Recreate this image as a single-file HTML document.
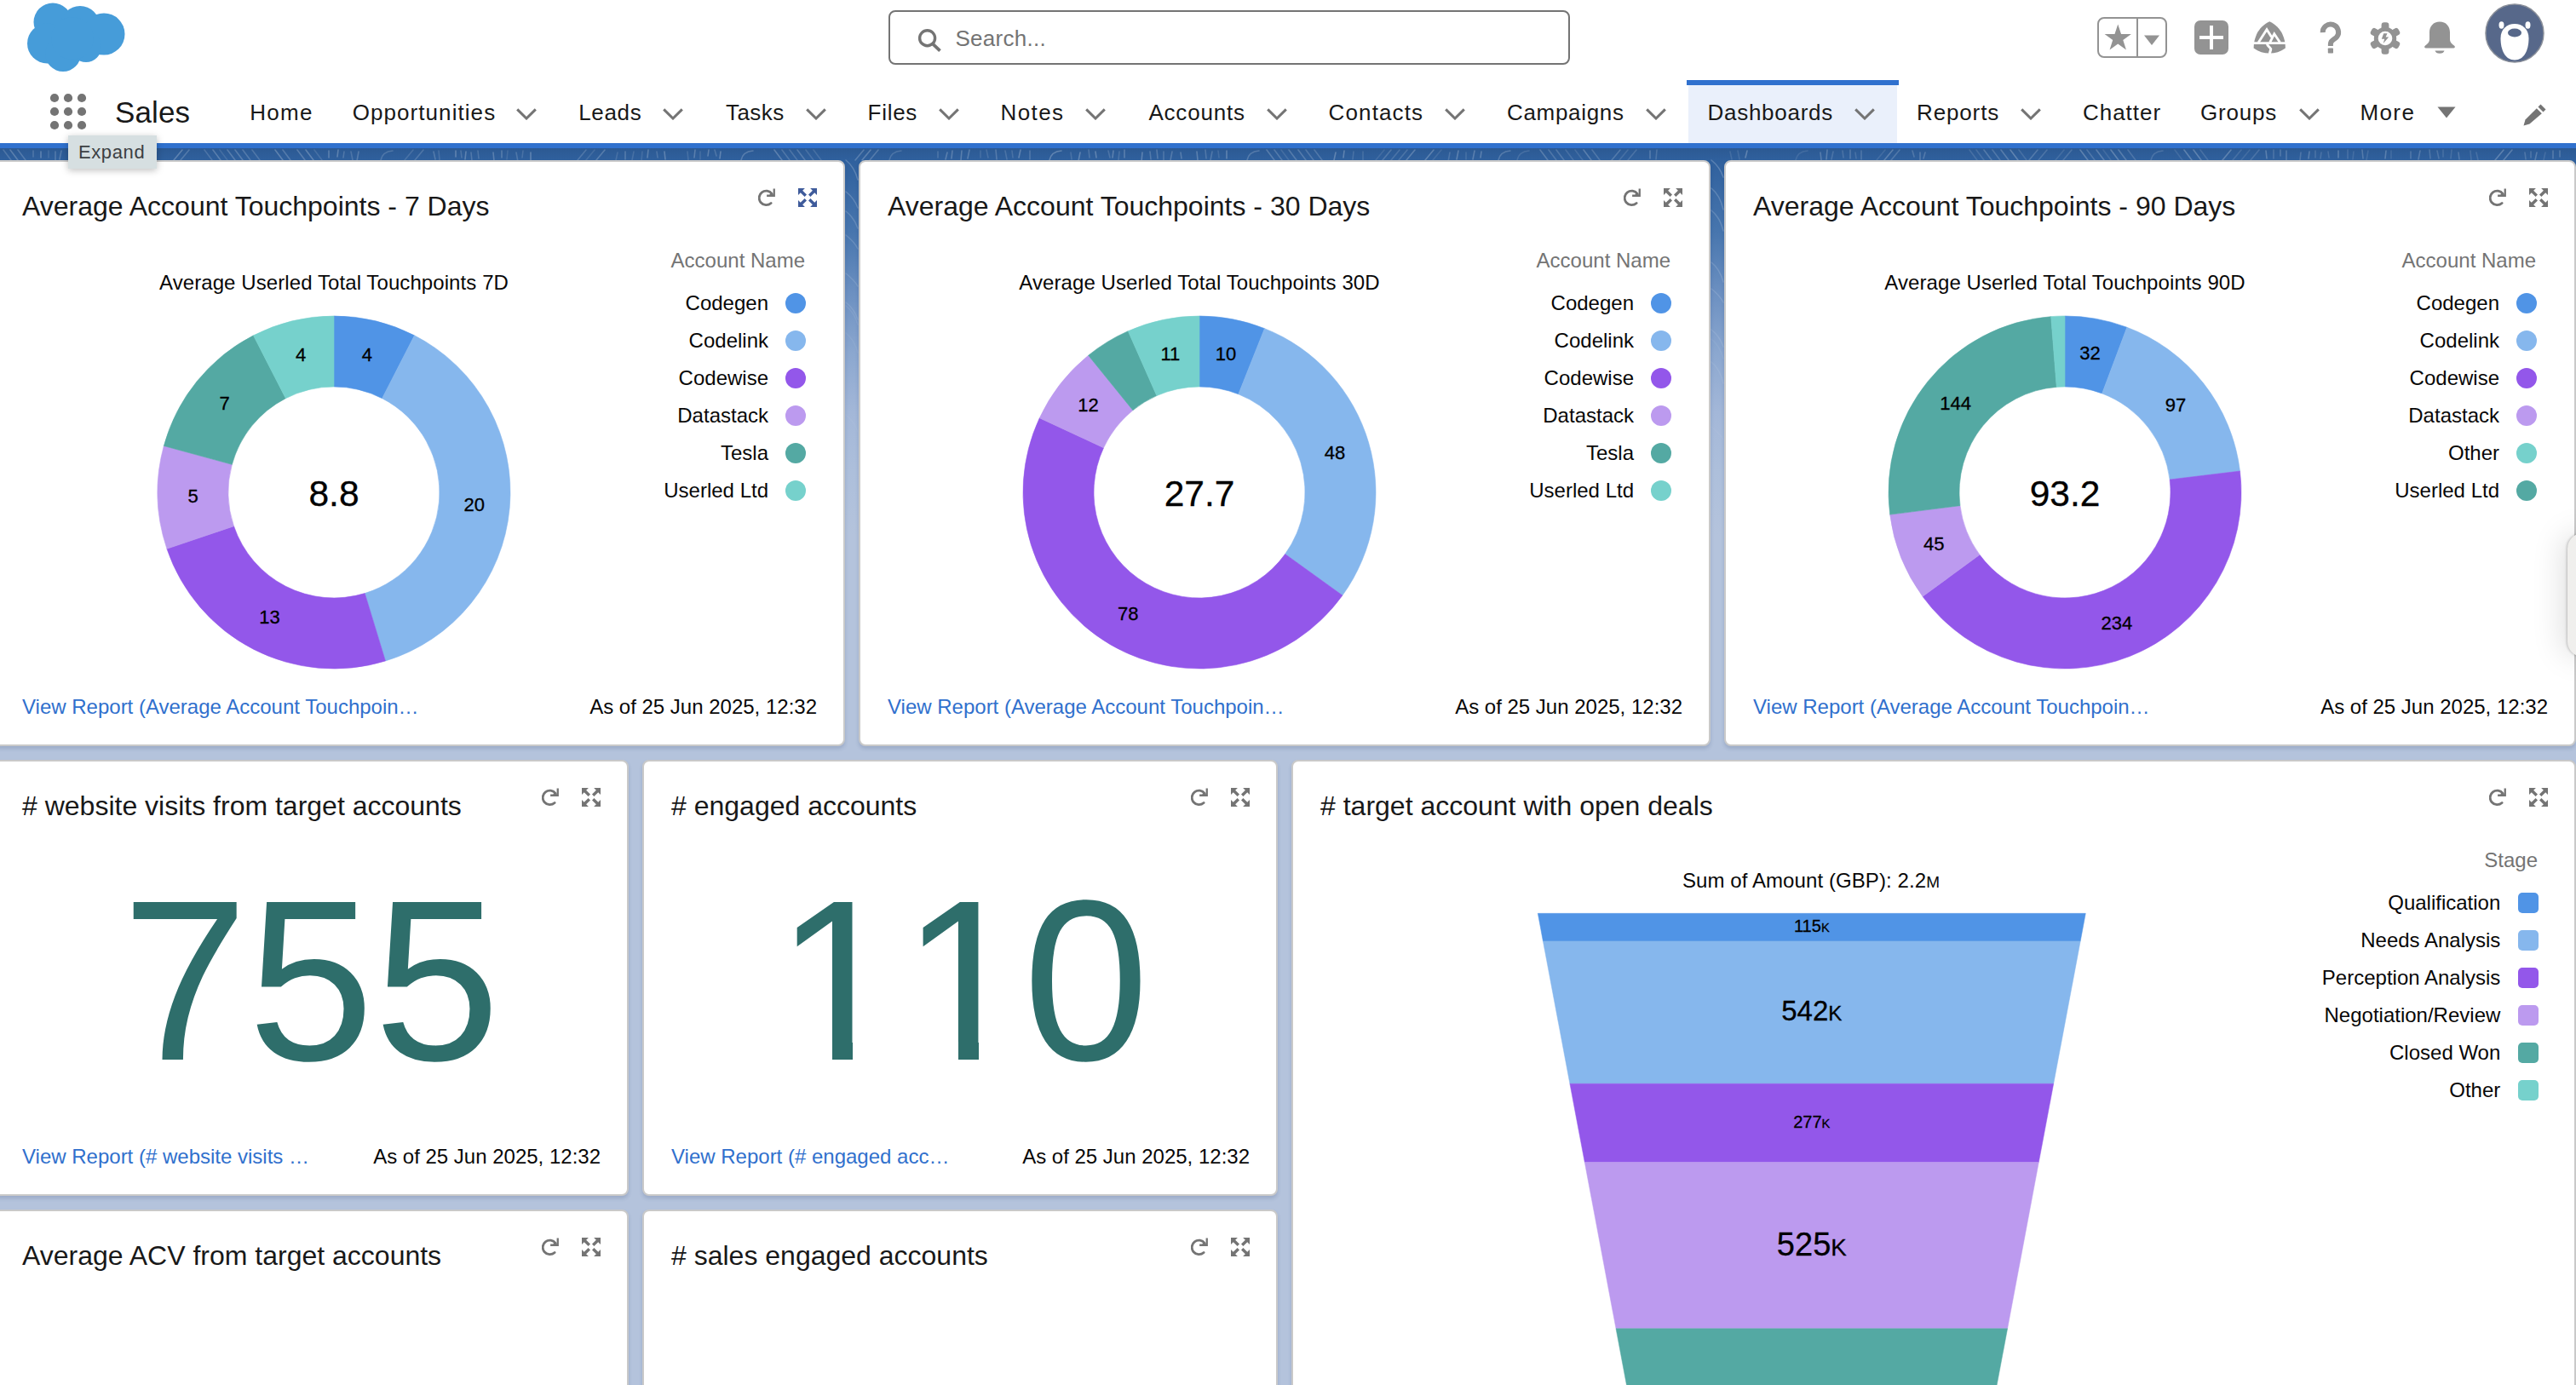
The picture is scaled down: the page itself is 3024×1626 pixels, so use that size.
<!DOCTYPE html>
<html lang="en"><head><meta charset="utf-8"><title>Dashboards | Salesforce</title>
<style>
html,body{margin:0;padding:0}
@media (max-width:1600px){html{zoom:0.5}}
body{width:3024px;height:1626px;overflow:hidden;position:relative;background:#b4c3dc;font-family:"Liberation Sans", sans-serif;color:#181818}
.abs{position:absolute}
#bg{position:absolute;left:0;top:174px;width:3024px;height:460px;background:linear-gradient(to bottom,#2c5992 0px,#2f609d 13px,#4876ae 100px,#6c90c1 170px,#8ba7cf 240px,#a3b7d8 310px,#adbfdb 380px,#b4c3dc 455px)}
#hdr{position:absolute;left:0;top:0;width:3024px;height:168px;background:#fff}
#bline{position:absolute;left:0;top:168px;width:3024px;height:6px;background:#3071ce}
.card{position:absolute;box-sizing:border-box;background:#fff;border:2px solid #c9c9c9;border-radius:8px;box-shadow:0 3px 4px rgba(40,60,110,0.18)}
.ttl{position:absolute;left:32px;top:32px;font-size:32px;line-height:40px;white-space:nowrap;color:#181818}
.ic{position:absolute}
.sub{position:absolute;text-align:center;letter-spacing:0.086px;font-size:24px;line-height:28px;color:#080707;white-space:nowrap}
.sc{font-size:19px}
.lgt{position:absolute;font-size:24px;line-height:28px;color:#747474;white-space:nowrap}
.lgi{position:absolute;font-size:24px;line-height:28px;color:#080707;white-space:nowrap}
.dot{position:absolute;width:24px;height:24px;border-radius:50%}
.sq{position:absolute;width:24px;height:24px;border-radius:5px}
.lnk{position:absolute;left:32px;bottom:30px;font-size:24px;line-height:28px;color:#3070cd;white-space:nowrap}
.asof{position:absolute;right:31px;bottom:30px;font-size:24px;line-height:28px;color:#080707;white-space:nowrap}
.big{position:absolute;left:0;width:100%;text-align:center;top:106.500px;transform:scaleY(1.012);font-size:266px;line-height:300px;color:#2e6e6b;white-space:nowrap;font-kerning:none;font-feature-settings:'kern' 0}
.one{position:relative;display:inline-block;left:5px}
.one::before{content:'';position:absolute;left:13px;width:54.300px;top:221px;height:24px;background:#fff}
.one::after{content:'';position:absolute;left:90.600px;width:51px;top:221px;height:24px;background:#fff}
.nv{position:absolute;top:116px;font-size:26px;line-height:32px;color:#181818;white-space:nowrap}
#sales{position:absolute;left:135px;top:110px;font-size:35px;line-height:44px;color:#181818;letter-spacing:0.1px}
#search{position:absolute;left:1043px;top:12px;width:800px;height:64px;box-sizing:border-box;border:2px solid #747474;border-radius:8px;background:#fff}
#search span{position:absolute;left:76.400px;top:15px;font-size:26px;line-height:32px;color:#747474;letter-spacing:0.3px}
#tip{position:absolute;left:80px;top:159px;width:104px;height:39px;background:#d6dfe1;box-shadow:0 2px 8px rgba(0,0,0,0.25);font-size:22px;line-height:26px;color:#3c4043}
#tip span{position:absolute;left:12px;top:7px;letter-spacing:0.6px}
#dtab{position:absolute;left:1982px;top:94px;width:245px;height:74px;background:#eaf0fb}
#dtabline{position:absolute;left:1980px;top:94px;width:249px;height:6px;background:#3071ce}
#pill{position:absolute;left:3014px;top:626px;width:40px;height:145px;border-radius:18px;background:#f0efed;box-shadow:-1px 0 3px rgba(0,0,0,0.22),-6px 0 36px rgba(0,0,0,0.13)}
</style></head><body>
<div id="bg"></div><svg class="abs" style="left:0;top:174px" width="3024" height="470" viewBox="0 0 3024 470"><g fill="none" stroke="#ffffff" stroke-width="1.6" stroke-linecap="round"><path d="M4,2l9,12" opacity="0.16"/><path d="M12,2l9,12" opacity="0.21"/><path d="M21,2l9,12" opacity="0.18"/><path d="M39,3l0,7" opacity="0.16"/><path d="M48,4l0,7" opacity="0.23"/><path d="M57,3l0,8" opacity="0.11"/><path d="M65,4l0,10" opacity="0.18"/><path d="M72,3l-2,10" opacity="0.18"/><path d="M102,2l-10,12" opacity="0.17"/><path d="M113,2l-10,12" opacity="0.17"/><path d="M125,2l-10,12" opacity="0.15"/><path d="M134,2l-10,12" opacity="0.13"/><path d="M145,2l-10,12" opacity="0.11"/><path d="M154,2l-10,12" opacity="0.17"/><path d="M164,2l-10,12" opacity="0.16"/><path d="M170,14q2,-10 14,-11" opacity="0.12"/><path d="M214,2l-10,12" opacity="0.23"/><path d="M222,2l-10,12" opacity="0.18"/><path d="M240,2l9,12" opacity="0.15"/><path d="M250,2l9,12" opacity="0.21"/><path d="M258,2l9,12" opacity="0.11"/><path d="M267,2l9,12" opacity="0.20"/><path d="M276,2l9,12" opacity="0.20"/><path d="M285,2l9,12" opacity="0.18"/><path d="M296,2l9,12" opacity="0.16"/><path d="M323,2l9,12" opacity="0.23"/><path d="M332,2l9,12" opacity="0.19"/><path d="M349,2l9,12" opacity="0.20"/><path d="M359,2l9,12" opacity="0.23"/><path d="M369,2l9,12" opacity="0.12"/><path d="M386,3l-0,8" opacity="0.22"/><path d="M397,2l-1,8" opacity="0.23"/><path d="M404,4l-1,7" opacity="0.17"/><path d="M412,4l2,10" opacity="0.15"/><path d="M421,4l-2,11" opacity="0.19"/><path d="M447,14q2,-10 14,-11" opacity="0.16"/><path d="M485,2l-10,12" opacity="0.13"/><path d="M497,2l-10,12" opacity="0.16"/><path d="M509,4l2,9" opacity="0.18"/><path d="M515,3l1,11" opacity="0.13"/><path d="M535,3l-0,7" opacity="0.24"/><path d="M541,3l1,8" opacity="0.15"/><path d="M547,4l-1,9" opacity="0.23"/><path d="M553,5l1,10" opacity="0.17"/><path d="M561,3l1,9" opacity="0.15"/><path d="M579,5l1,10" opacity="0.21"/><path d="M589,3l0,8" opacity="0.20"/><path d="M596,3l-1,10" opacity="0.10"/><path d="M606,5l2,11" opacity="0.16"/><path d="M614,3l-1,8" opacity="0.13"/><path d="M623,5l-0,10" opacity="0.23"/><path d="M688,2l-10,12" opacity="0.16"/><path d="M698,2l-10,12" opacity="0.11"/><path d="M710,2l-10,12" opacity="0.20"/><path d="M725,5l-2,9" opacity="0.12"/><path d="M734,4l0,9" opacity="0.19"/><path d="M744,4l-2,10" opacity="0.12"/><path d="M754,4l-1,11" opacity="0.11"/><path d="M761,2l-1,9" opacity="0.22"/><path d="M771,4l1,7" opacity="0.15"/><path d="M780,4l1,9" opacity="0.23"/><path d="M807,4l1,10" opacity="0.12"/><path d="M816,2l-1,9" opacity="0.21"/><path d="M822,4l0,9" opacity="0.11"/><path d="M832,2l-1,7" opacity="0.22"/><path d="M839,2l2,7" opacity="0.16"/><path d="M846,4l-1,8" opacity="0.24"/><path d="M870,14q2,-10 14,-11" opacity="0.20"/><path d="M909,2l9,12" opacity="0.22"/><path d="M918,2l9,12" opacity="0.16"/><path d="M927,2l9,12" opacity="0.15"/><path d="M936,2l9,12" opacity="0.19"/><path d="M946,2l9,12" opacity="0.13"/><path d="M955,2l9,12" opacity="0.12"/><path d="M1014,2l-10,12" opacity="0.20"/><path d="M1022,2l-10,12" opacity="0.22"/><path d="M1031,2l-10,12" opacity="0.19"/><path d="M1044,14q2,-10 14,-11" opacity="0.15"/><path d="M1101,4l0,7" opacity="0.15"/><path d="M1112,5l-2,8" opacity="0.21"/><path d="M1118,3l-1,9" opacity="0.21"/><path d="M1129,3l-1,11" opacity="0.21"/><path d="M1138,2l-2,10" opacity="0.20"/><path d="M1151,3l0,8" opacity="0.11"/><path d="M1158,2l2,9" opacity="0.12"/><path d="M1169,2l1,11" opacity="0.19"/><path d="M1180,3l2,10" opacity="0.14"/><path d="M1188,3l1,8" opacity="0.13"/><path d="M1198,2l-2,9" opacity="0.24"/><path d="M1209,3l-0,10" opacity="0.17"/><path d="M1232,14q2,-10 14,-11" opacity="0.24"/><path d="M1257,5l1,8" opacity="0.13"/><path d="M1268,5l-2,10" opacity="0.24"/><path d="M1278,2l1,9" opacity="0.16"/><path d="M1286,4l1,7" opacity="0.24"/><path d="M1301,3l2,8" opacity="0.15"/><path d="M1307,3l-1,8" opacity="0.22"/><path d="M1314,4l-1,10" opacity="0.14"/><path d="M1320,2l0,9" opacity="0.21"/><path d="M1341,5l-1,11" opacity="0.23"/><path d="M1350,4l1,9" opacity="0.18"/><path d="M1358,2l1,10" opacity="0.19"/><path d="M1366,4l0,11" opacity="0.16"/><path d="M1376,4l-2,10" opacity="0.18"/><path d="M1386,5l1,7" opacity="0.20"/><path d="M1405,4l1,10" opacity="0.22"/><path d="M1415,2l1,10" opacity="0.17"/><path d="M1423,4l-2,10" opacity="0.17"/><path d="M1430,3l1,8" opacity="0.11"/><path d="M1440,3l-0,9" opacity="0.24"/><path d="M1464,14q2,-10 14,-11" opacity="0.19"/><path d="M1487,2l9,12" opacity="0.20"/><path d="M1496,2l9,12" opacity="0.18"/><path d="M1504,2l9,12" opacity="0.11"/><path d="M1513,2l9,12" opacity="0.19"/><path d="M1524,2l9,12" opacity="0.19"/><path d="M1533,2l9,12" opacity="0.17"/><path d="M1543,2l9,12" opacity="0.17"/><path d="M1568,5l-2,9" opacity="0.24"/><path d="M1578,3l-1,8" opacity="0.24"/><path d="M1589,4l-1,9" opacity="0.13"/><path d="M1600,4l0,11" opacity="0.12"/><path d="M1625,2l-10,12" opacity="0.10"/><path d="M1633,2l-10,12" opacity="0.17"/><path d="M1643,2l-10,12" opacity="0.14"/><path d="M1652,2l-10,12" opacity="0.15"/><path d="M1661,2l-10,12" opacity="0.22"/><path d="M1683,2l-10,12" opacity="0.23"/><path d="M1692,2l-10,12" opacity="0.10"/><path d="M1702,5l-2,11" opacity="0.15"/><path d="M1712,3l-2,10" opacity="0.22"/><path d="M1721,5l-0,8" opacity="0.12"/><path d="M1731,3l-2,10" opacity="0.21"/><path d="M1739,4l-1,7" opacity="0.22"/><path d="M1759,14q2,-10 14,-11" opacity="0.19"/><path d="M1781,14q2,-10 14,-11" opacity="0.12"/><path d="M1808,2l9,12" opacity="0.20"/><path d="M1818,2l9,12" opacity="0.16"/><path d="M1827,2l9,12" opacity="0.17"/><path d="M1838,2l9,12" opacity="0.12"/><path d="M1849,2l9,12" opacity="0.11"/><path d="M1859,2l9,12" opacity="0.21"/><path d="M1869,2l9,12" opacity="0.16"/><path d="M1902,2l-10,12" opacity="0.18"/><path d="M1911,2l-10,12" opacity="0.12"/><path d="M1921,2l-10,12" opacity="0.14"/><path d="M1937,3l-0,9" opacity="0.20"/><path d="M1945,2l-1,11" opacity="0.15"/><path d="M2031,4l2,9" opacity="0.10"/><path d="M2040,3l2,10" opacity="0.10"/><path d="M2051,3l-2,8" opacity="0.24"/><path d="M2108,14q2,-10 14,-11" opacity="0.10"/><path d="M2137,5l1,9" opacity="0.20"/><path d="M2145,2l-1,11" opacity="0.21"/><path d="M2152,4l-2,9" opacity="0.14"/><path d="M2163,3l1,8" opacity="0.14"/><path d="M2172,2l-0,10" opacity="0.18"/><path d="M2178,5l1,7" opacity="0.13"/><path d="M2185,3l-0,10" opacity="0.16"/><path d="M2213,2l-10,12" opacity="0.10"/><path d="M2222,2l-10,12" opacity="0.22"/><path d="M2230,2l-10,12" opacity="0.17"/><path d="M2245,3l2,7" opacity="0.17"/><path d="M2254,5l-0,11" opacity="0.19"/><path d="M2260,5l-2,7" opacity="0.18"/><path d="M2312,2l9,12" opacity="0.12"/><path d="M2320,2l9,12" opacity="0.12"/><path d="M2329,2l9,12" opacity="0.19"/><path d="M2339,2l9,12" opacity="0.17"/><path d="M2349,2l9,12" opacity="0.20"/><path d="M2360,2l9,12" opacity="0.24"/><path d="M2370,2l9,12" opacity="0.12"/><path d="M2392,2l-10,12" opacity="0.18"/><path d="M2403,2l-10,12" opacity="0.15"/><path d="M2423,2l-10,12" opacity="0.11"/><path d="M2432,2l-10,12" opacity="0.15"/><path d="M2442,2l9,12" opacity="0.23"/><path d="M2450,2l9,12" opacity="0.16"/><path d="M2461,2l9,12" opacity="0.21"/><path d="M2469,2l9,12" opacity="0.10"/><path d="M2478,2l9,12" opacity="0.23"/><path d="M2487,2l9,12" opacity="0.20"/><path d="M2498,2l9,12" opacity="0.15"/><path d="M2525,14q2,-10 14,-11" opacity="0.14"/><path d="M2553,2l9,12" opacity="0.10"/><path d="M2564,2l9,12" opacity="0.23"/><path d="M2575,2l9,12" opacity="0.23"/><path d="M2583,2l9,12" opacity="0.13"/><path d="M2619,2l-10,12" opacity="0.23"/><path d="M2631,2l-10,12" opacity="0.12"/><path d="M2641,2l-10,12" opacity="0.10"/><path d="M2652,2l-10,12" opacity="0.14"/><path d="M2660,3l1,9" opacity="0.22"/><path d="M2669,2l-0,10" opacity="0.15"/><path d="M2677,2l-0,7" opacity="0.18"/><path d="M2684,3l-0,11" opacity="0.19"/><path d="M2701,5l-1,9" opacity="0.16"/><path d="M2711,4l-1,8" opacity="0.21"/><path d="M2718,3l-0,8" opacity="0.14"/><path d="M2725,5l-1,7" opacity="0.14"/><path d="M2733,4l1,7" opacity="0.13"/><path d="M2745,3l-0,8" opacity="0.22"/><path d="M2756,2l0,10" opacity="0.13"/><path d="M2763,4l-1,9" opacity="0.11"/><path d="M2773,2l1,10" opacity="0.19"/><path d="M2780,3l-2,11" opacity="0.11"/><path d="M2801,3l-1,9" opacity="0.21"/><path d="M2807,3l-0,9" opacity="0.10"/><path d="M2830,4l-0,8" opacity="0.17"/><path d="M2841,3l-2,10" opacity="0.19"/><path d="M2852,2l1,10" opacity="0.16"/><path d="M2861,3l2,9" opacity="0.15"/><path d="M2868,2l0,8" opacity="0.12"/><path d="M2878,2l-1,10" opacity="0.12"/><path d="M2886,5l1,8" opacity="0.18"/><path d="M2900,3l1,11" opacity="0.12"/><path d="M2907,5l2,9" opacity="0.12"/><path d="M2939,2l-10,12" opacity="0.23"/><path d="M2949,2l-10,12" opacity="0.22"/><path d="M2964,5l1,8" opacity="0.16"/><path d="M2971,4l-0,7" opacity="0.16"/><path d="M2978,5l-2,9" opacity="0.20"/><path d="M2988,5l-2,9" opacity="0.11"/><path d="M2997,3l-0,9" opacity="0.19"/><path d="M3005,3l-0,7" opacity="0.19"/><path d="M993,14q10,8 14,23" opacity="0.20"/><path d="M993,51q10,8 14,19" opacity="0.18"/><path d="M993,74q10,8 14,20" opacity="0.16"/><path d="M993,102q10,8 14,16" opacity="0.14"/><path d="M993,147q10,8 14,15" opacity="0.12"/><path d="M993,181q10,8 14,20" opacity="0.10"/><path d="M993,185q10,8 14,22" opacity="0.08"/><path d="M993,217q10,8 14,23" opacity="0.06"/><path d="M993,313q10,8 14,20" opacity="0.04"/><path d="M2009,14q10,8 14,20" opacity="0.20"/><path d="M2009,47q10,8 14,25" opacity="0.18"/><path d="M2009,73q10,8 14,24" opacity="0.16"/><path d="M2009,134q10,8 14,23" opacity="0.14"/><path d="M2009,165q10,8 14,16" opacity="0.12"/><path d="M2009,213q10,8 14,20" opacity="0.10"/><path d="M2009,251q10,8 14,25" opacity="0.08"/><path d="M2009,224q10,8 14,23" opacity="0.06"/><path d="M2009,327q10,8 14,15" opacity="0.04"/></g></svg>
<div id="hdr">
<svg class="abs" style="left:28px;top:0" width="124" height="90" viewBox="28 0 124 90"><g fill="#469cd9"><circle cx="62" cy="26" r="22.5"/><circle cx="94" cy="30" r="23"/><circle cx="122" cy="40" r="24.5"/><circle cx="55.500" cy="51" r="23.5"/><circle cx="74" cy="63" r="21"/><circle cx="101" cy="55" r="18"/><circle cx="85" cy="45" r="25"/></g></svg>
<div id="search"><svg class="abs" style="left:32px;top:18.500px" width="30" height="30" viewBox="0 0 30 30"><circle cx="11.6" cy="11.700" r="9" fill="none" stroke="#747474" stroke-width="3.4"/><path d="M17.800,18.400L26.500,26.600" stroke="#747474" stroke-width="3.8" fill="none"/></svg><span>Search...</span></div>
<!-- right icons -->
<div class="abs" style="left:2462px;top:20px;width:82px;height:48px;box-sizing:border-box;border:2px solid #939393;border-radius:8px"></div>
<div class="abs" style="left:2508px;top:21px;width:2px;height:46px;background:#939393"></div>
<svg class="abs" style="left:2468.800px;top:27.300px" width="34.500" height="34.500" viewBox="0 0 32 32"><path d="M16,1.500L19.500,12H30.500L21.600,18.600L25,29.300L16,22.700L7,29.300L10.400,18.600L1.500,12H12.500Z" fill="#939393"/></svg>
<svg class="abs" style="left:2516px;top:40px" width="20" height="14" viewBox="0 0 20 14"><path d="M1,1.500H19L10,13Z" fill="#939393"/></svg>
<div class="abs" style="left:2576px;top:24px;width:40px;height:40px;border-radius:7px;background:#939393"></div>
<div class="abs" style="left:2582px;top:42px;width:28px;height:4px;background:#fff"></div>
<div class="abs" style="left:2594px;top:30px;width:4px;height:28px;background:#fff"></div>
<svg class="abs" style="left:2644px;top:24px" width="40" height="40" viewBox="0 0 40 40"><path d="M20.300,1.300C27,4.500 32.500,10 35.400,16.200C37.600,21 38.900,26 38.900,32.400C33,36.500 27,38.600 20.300,38.600C13.500,38.600 7.500,36.500 1.600,32.400C1.600,26 3,21 5.100,16.200C8,10 13.500,4.500 20.300,1.300Z" fill="#939393"/><path d="M0,26.700H40" stroke="#fff" stroke-width="2.800"/><path d="M7.100,26L17,10.700L22.600,19.600M20.600,26L25.800,15.700L32.600,26" fill="none" stroke="#fff" stroke-width="2.800" stroke-linejoin="miter" stroke-miterlimit="6"/><path d="M17.400,27.500C18,31 22.500,31.500 21.600,34.500C21.200,36 20.600,37.500 20.400,39" fill="none" stroke="#fff" stroke-width="3"/></svg>
<svg class="abs" style="left:2721px;top:22px" width="30" height="44" viewBox="0 0 30 44"><path d="M5.700,16.200A9.200,9.200 0 1 1 22.300,21.200C20.500,24 14.900,24.800 14.900,29.500V32" fill="none" stroke="#939393" stroke-width="6"/><rect x="11.800" y="34.400" width="6.200" height="6.200" rx="0.800" fill="#939393"/></svg>
<svg class="abs" style="left:2781px;top:25px" width="38" height="40" viewBox="-19 -20 38 40"><g fill="#939393"><circle r="13.200"/><g id="tooth"><rect x="-4.400" y="-18.700" width="8.800" height="10" rx="3.200"/></g><use href="#tooth" transform="rotate(60)"/><use href="#tooth" transform="rotate(120)"/><use href="#tooth" transform="rotate(180)"/><use href="#tooth" transform="rotate(240)"/><use href="#tooth" transform="rotate(300)"/></g><circle r="8.300" fill="#fff"/><path d="M2.500,-5.800H-1.800L-4.200,0.800H-0.800L-2.300,6L4.200,-1.600H0.600Z" fill="#939393"/></svg>
<svg class="abs" style="left:2844px;top:24px" width="40" height="40" viewBox="0 0 40 40"><path d="M20,1.500C27.500,1.500 32,7 32,14V22C32,26 35,28 37,29.500C38.500,30.500 38,32.500 36,32.500H4C2,32.500 1.500,30.500 3,29.500C5,28 8,26 8,22V14C8,7 12.500,1.500 20,1.500Z" fill="#939393"/><path d="M14.500,35.500H25.500C25,37.500 23,38.800 20,38.800C17,38.800 15,37.500 14.500,35.500Z" fill="#939393"/></svg>
<svg class="abs" style="left:2917px;top:4px" width="70" height="70" viewBox="0 0 70 70"><circle cx="35" cy="35" r="34" fill="#57688a" stroke="#8a8f99" stroke-width="1.500"/><ellipse cx="19.500" cy="25.500" rx="3" ry="4.200" fill="#fff"/><ellipse cx="50.500" cy="25.500" rx="3" ry="4.200" fill="#fff"/><path d="M35,24C44,24 51.500,30 51.500,41C51.500,55 46,66.500 35,66.500C24,66.500 18.500,55 18.500,41C18.500,30 26,24 35,24Z" fill="#fff"/><ellipse cx="35" cy="34.500" rx="8" ry="5" fill="#57688a"/></svg>
<!-- nav row -->
<svg class="abs" style="left:58px;top:109px" width="44" height="44" viewBox="0 0 44 44"><g fill="#747474"><circle cx="6" cy="6" r="5.100"/><circle cx="22" cy="6" r="5.100"/><circle cx="38" cy="6" r="5.100"/><circle cx="6" cy="22" r="5.100"/><circle cx="22" cy="22" r="5.100"/><circle cx="38" cy="22" r="5.100"/><circle cx="6" cy="38" r="5.100"/><circle cx="22" cy="38" r="5.100"/><circle cx="38" cy="38" r="5.100"/></g></svg>
<div id="sales">Sales</div>
<div id="dtab"></div><div id="dtabline"></div>
<div class="nv" id="nv-Home" style="left:293.20px;letter-spacing:1.300px">Home</div><div class="nv" id="nv-Opportunities" style="left:413.70px;letter-spacing:1.067px">Opportunities</div><svg class="abs" style="left:606.4px;top:127px" width="24" height="14" viewBox="0 0 24 14"><path d="M1.2,1.4L12,12L22.800,1.4" fill="none" stroke="#747474" stroke-width="3"/></svg><div class="nv" id="nv-Leads" style="left:679.20px;letter-spacing:0.650px">Leads</div><svg class="abs" style="left:778.4px;top:127px" width="24" height="14" viewBox="0 0 24 14"><path d="M1.2,1.4L12,12L22.800,1.4" fill="none" stroke="#747474" stroke-width="3"/></svg><div class="nv" id="nv-Tasks" style="left:852.00px;letter-spacing:0.450px">Tasks</div><svg class="abs" style="left:946.3px;top:127px" width="24" height="14" viewBox="0 0 24 14"><path d="M1.2,1.4L12,12L22.800,1.4" fill="none" stroke="#747474" stroke-width="3"/></svg><div class="nv" id="nv-Files" style="left:1018.60px;letter-spacing:0.700px">Files</div><svg class="abs" style="left:1102.4px;top:127px" width="24" height="14" viewBox="0 0 24 14"><path d="M1.2,1.4L12,12L22.800,1.4" fill="none" stroke="#747474" stroke-width="3"/></svg><div class="nv" id="nv-Notes" style="left:1174.50px;letter-spacing:1.400px">Notes</div><svg class="abs" style="left:1274.1px;top:127px" width="24" height="14" viewBox="0 0 24 14"><path d="M1.2,1.4L12,12L22.800,1.4" fill="none" stroke="#747474" stroke-width="3"/></svg><div class="nv" id="nv-Accounts" style="left:1348.40px;letter-spacing:0.814px">Accounts</div><svg class="abs" style="left:1487.2px;top:127px" width="24" height="14" viewBox="0 0 24 14"><path d="M1.2,1.4L12,12L22.800,1.4" fill="none" stroke="#747474" stroke-width="3"/></svg><div class="nv" id="nv-Contacts" style="left:1559.60px;letter-spacing:1.129px">Contacts</div><svg class="abs" style="left:1696.1px;top:127px" width="24" height="14" viewBox="0 0 24 14"><path d="M1.2,1.4L12,12L22.800,1.4" fill="none" stroke="#747474" stroke-width="3"/></svg><div class="nv" id="nv-Campaigns" style="left:1769.00px;letter-spacing:0.675px">Campaigns</div><svg class="abs" style="left:1932.4px;top:127px" width="24" height="14" viewBox="0 0 24 14"><path d="M1.2,1.4L12,12L22.800,1.4" fill="none" stroke="#747474" stroke-width="3"/></svg><div class="nv" id="nv-Dashboards" style="left:2004.50px;letter-spacing:0.722px">Dashboards</div><svg class="abs" style="left:2177.3px;top:127px" width="24" height="14" viewBox="0 0 24 14"><path d="M1.2,1.4L12,12L22.800,1.4" fill="none" stroke="#747474" stroke-width="3"/></svg><div class="nv" id="nv-Reports" style="left:2250.00px;letter-spacing:0.867px">Reports</div><svg class="abs" style="left:2372.0px;top:127px" width="24" height="14" viewBox="0 0 24 14"><path d="M1.2,1.4L12,12L22.800,1.4" fill="none" stroke="#747474" stroke-width="3"/></svg><div class="nv" id="nv-Chatter" style="left:2444.90px;letter-spacing:1.000px">Chatter</div><div class="nv" id="nv-Groups" style="left:2583.00px;letter-spacing:0.780px">Groups</div><svg class="abs" style="left:2698.7px;top:127px" width="24" height="14" viewBox="0 0 24 14"><path d="M1.2,1.4L12,12L22.800,1.4" fill="none" stroke="#747474" stroke-width="3"/></svg><div class="nv" id="nv-More" style="left:2770.40px;letter-spacing:1.433px">More</div>
<svg class="abs" style="left:2861px;top:125px" width="22" height="14" viewBox="0 0 22 14"><path d="M0.500,0.500H21.500L11,13.500Z" fill="#747474"/></svg>
<svg class="abs" style="left:2961px;top:121px" width="30" height="28" viewBox="0 0 30 28"><path d="M21.500,1.500L27.500,7.500L24.500,10.500L18.500,4.500Z" fill="#747474"/><path d="M16.800,6.200L22.800,12.200L8.500,24.500L1.500,26.500L3.500,19.500Z" fill="#747474"/></svg>
</div>
<div id="bline"></div>
<div class="card" style="left:-8px;top:188px;width:1000px;height:688px"><div class="ttl">Average Account Touchpoints - 7 Days</div><svg class="ic" style="left:896px;top:31px" width="24" height="24" viewBox="0 -1 24 24"><path d="M15.11,16.47A8.3,8.3 0 1 1 16.200,5.500" fill="none" stroke="#747474" stroke-width="2.800" stroke-linecap="round"/><path d="M18.750,-0.400V7.750H10.100" fill="none" stroke="#747474" stroke-width="2.300" stroke-linecap="butt" stroke-linejoin="miter"/><path d="M14.800,3.300L18.750,7.750H13Z" fill="#747474"/></svg><svg class="ic" style="left:943px;top:31px" width="22" height="22" viewBox="0 0 22 22"><g fill="#3f5b9b"><path id="ar" d="M0,0H7.900L5.150,2.750L10,7.600L7.600,10L2.750,5.150L0,7.900Z"/><path d="M0,0H7.900L5.150,2.750L10,7.600L7.600,10L2.750,5.150L0,7.900Z" transform="translate(22,0) scale(-1,1)"/><path d="M0,0H7.900L5.150,2.750L10,7.600L7.600,10L2.750,5.150L0,7.900Z" transform="translate(0,22) scale(1,-1)"/><path d="M0,0H7.900L5.150,2.750L10,7.600L7.600,10L2.750,5.150L0,7.900Z" transform="translate(22,22) scale(-1,-1)"/></g></svg><div class="sub" style="left:98px;width:600px;top:127.8px">Average Userled Total Touchpoints 7D</div><svg class="abs" style="left:0;top:0" width="996" height="684" viewBox="2 2 996 684" font-family='"Liberation Sans", sans-serif' stroke="#000" stroke-width="0.3"><path d="M400.00,183.00A207,207 0 0 1 494.52,205.84L456.62,279.68A124,124 0 0 0 400.00,266.00Z" fill="#5094e6" stroke="#5094e6" stroke-width="0.6"/>
<path d="M494.52,205.84A207,207 0 0 1 460.46,587.98L436.22,508.59A124,124 0 0 0 456.62,279.68Z" fill="#86b7ed" stroke="#86b7ed" stroke-width="0.6"/>
<path d="M460.46,587.98A207,207 0 0 1 203.90,456.30L282.53,429.71A124,124 0 0 0 436.22,508.59Z" fill="#9357ea" stroke="#9357ea" stroke-width="0.6"/>
<path d="M203.90,456.30A207,207 0 0 1 200.32,335.44L280.39,357.32A124,124 0 0 0 282.53,429.71Z" fill="#bc9aef" stroke="#bc9aef" stroke-width="0.6"/>
<path d="M200.32,335.44A207,207 0 0 1 305.48,205.84L343.38,279.68A124,124 0 0 0 280.39,357.32Z" fill="#54a9a3" stroke="#54a9a3" stroke-width="0.6"/>
<path d="M305.48,205.84A207,207 0 0 1 400.00,183.00L400.00,266.00A124,124 0 0 0 343.38,279.68Z" fill="#76d1cc" stroke="#76d1cc" stroke-width="0.6"/>
<text x="438.9" y="236.1" font-size="22" text-anchor="middle" fill="#000">4</text>
<text x="564.8" y="411.7" font-size="22" text-anchor="middle" fill="#000">20</text>
<text x="324.4" y="544.2" font-size="22" text-anchor="middle" fill="#000">13</text>
<text x="234.6" y="401.9" font-size="22" text-anchor="middle" fill="#000">5</text>
<text x="271.5" y="292.7" font-size="22" text-anchor="middle" fill="#000">7</text>
<text x="361.1" y="236.1" font-size="22" text-anchor="middle" fill="#000">4</text>
<text x="400" y="406.2" font-size="42.5" text-anchor="middle" fill="#000">8.8</text></svg><div class="lgt" style="right:45px;top:102px">Account Name</div><div class="lgi" style="right:88px;top:151.6px">Codegen</div><div class="dot" style="left:927.6px;top:153.6px;background:#5094e6"></div><div class="lgi" style="right:88px;top:195.6px">Codelink</div><div class="dot" style="left:927.6px;top:197.6px;background:#86b7ed"></div><div class="lgi" style="right:88px;top:239.6px">Codewise</div><div class="dot" style="left:927.6px;top:241.6px;background:#9357ea"></div><div class="lgi" style="right:88px;top:283.6px">Datastack</div><div class="dot" style="left:927.6px;top:285.6px;background:#bc9aef"></div><div class="lgi" style="right:88px;top:327.6px">Tesla</div><div class="dot" style="left:927.6px;top:329.6px;background:#54a9a3"></div><div class="lgi" style="right:88px;top:371.6px">Userled Ltd</div><div class="dot" style="left:927.6px;top:373.6px;background:#76d1cc"></div><div class="lnk">View Report (Average Account Touchpoin…</div><div class="asof">As of 25 Jun 2025, 12:32</div></div><div class="card" style="left:1008px;top:188px;width:1000px;height:688px"><div class="ttl">Average Account Touchpoints - 30 Days</div><svg class="ic" style="left:896px;top:31px" width="24" height="24" viewBox="0 -1 24 24"><path d="M15.11,16.47A8.3,8.3 0 1 1 16.200,5.500" fill="none" stroke="#747474" stroke-width="2.800" stroke-linecap="round"/><path d="M18.750,-0.400V7.750H10.100" fill="none" stroke="#747474" stroke-width="2.300" stroke-linecap="butt" stroke-linejoin="miter"/><path d="M14.800,3.300L18.750,7.750H13Z" fill="#747474"/></svg><svg class="ic" style="left:943px;top:31px" width="22" height="22" viewBox="0 0 22 22"><g fill="#747474"><path id="ar" d="M0,0H7.900L5.150,2.750L10,7.600L7.600,10L2.750,5.150L0,7.900Z"/><path d="M0,0H7.900L5.150,2.750L10,7.600L7.600,10L2.750,5.150L0,7.900Z" transform="translate(22,0) scale(-1,1)"/><path d="M0,0H7.900L5.150,2.750L10,7.600L7.600,10L2.750,5.150L0,7.900Z" transform="translate(0,22) scale(1,-1)"/><path d="M0,0H7.900L5.150,2.750L10,7.600L7.600,10L2.750,5.150L0,7.900Z" transform="translate(22,22) scale(-1,-1)"/></g></svg><div class="sub" style="left:98px;width:600px;top:127.8px">Average Userled Total Touchpoints 30D</div><svg class="abs" style="left:0;top:0" width="996" height="684" viewBox="2 2 996 684" font-family='"Liberation Sans", sans-serif' stroke="#000" stroke-width="0.3"><path d="M400.00,183.00A207,207 0 0 1 476.49,197.65L445.82,274.78A124,124 0 0 0 400.00,266.00Z" fill="#5094e6" stroke="#5094e6" stroke-width="0.6"/>
<path d="M476.49,197.65A207,207 0 0 1 567.93,511.04L500.59,462.51A124,124 0 0 0 445.82,274.78Z" fill="#86b7ed" stroke="#86b7ed" stroke-width="0.6"/>
<path d="M567.93,511.04A207,207 0 0 1 212.30,302.72L287.56,337.71A124,124 0 0 0 500.59,462.51Z" fill="#9357ea" stroke="#9357ea" stroke-width="0.6"/>
<path d="M212.30,302.72A207,207 0 0 1 269.63,229.21L321.90,293.68A124,124 0 0 0 287.56,337.71Z" fill="#bc9aef" stroke="#bc9aef" stroke-width="0.6"/>
<path d="M269.63,229.21A207,207 0 0 1 316.28,200.68L349.85,276.59A124,124 0 0 0 321.90,293.68Z" fill="#54a9a3" stroke="#54a9a3" stroke-width="0.6"/>
<path d="M316.28,200.68A207,207 0 0 1 400.00,183.00L400.00,266.00A124,124 0 0 0 349.85,276.59Z" fill="#76d1cc" stroke="#76d1cc" stroke-width="0.6"/>
<text x="431.1" y="234.5" font-size="22" text-anchor="middle" fill="#000">10</text>
<text x="558.9" y="350.6" font-size="22" text-anchor="middle" fill="#000">48</text>
<text x="316.3" y="539.8" font-size="22" text-anchor="middle" fill="#000">78</text>
<text x="269.5" y="295.2" font-size="22" text-anchor="middle" fill="#000">12</text>
<text x="365.8" y="235.1" font-size="22" text-anchor="middle" fill="#000">11</text>
<text x="400" y="406.2" font-size="42.5" text-anchor="middle" fill="#000">27.7</text></svg><div class="lgt" style="right:45px;top:102px">Account Name</div><div class="lgi" style="right:88px;top:151.6px">Codegen</div><div class="dot" style="left:927.6px;top:153.6px;background:#5094e6"></div><div class="lgi" style="right:88px;top:195.6px">Codelink</div><div class="dot" style="left:927.6px;top:197.6px;background:#86b7ed"></div><div class="lgi" style="right:88px;top:239.6px">Codewise</div><div class="dot" style="left:927.6px;top:241.6px;background:#9357ea"></div><div class="lgi" style="right:88px;top:283.6px">Datastack</div><div class="dot" style="left:927.6px;top:285.6px;background:#bc9aef"></div><div class="lgi" style="right:88px;top:327.6px">Tesla</div><div class="dot" style="left:927.6px;top:329.6px;background:#54a9a3"></div><div class="lgi" style="right:88px;top:371.6px">Userled Ltd</div><div class="dot" style="left:927.6px;top:373.6px;background:#76d1cc"></div><div class="lnk">View Report (Average Account Touchpoin…</div><div class="asof">As of 25 Jun 2025, 12:32</div></div><div class="card" style="left:2024px;top:188px;width:1000px;height:688px"><div class="ttl">Average Account Touchpoints - 90 Days</div><svg class="ic" style="left:896px;top:31px" width="24" height="24" viewBox="0 -1 24 24"><path d="M15.11,16.47A8.3,8.3 0 1 1 16.200,5.500" fill="none" stroke="#747474" stroke-width="2.800" stroke-linecap="round"/><path d="M18.750,-0.400V7.750H10.100" fill="none" stroke="#747474" stroke-width="2.300" stroke-linecap="butt" stroke-linejoin="miter"/><path d="M14.800,3.300L18.750,7.750H13Z" fill="#747474"/></svg><svg class="ic" style="left:943px;top:31px" width="22" height="22" viewBox="0 0 22 22"><g fill="#747474"><path id="ar" d="M0,0H7.900L5.150,2.750L10,7.600L7.600,10L2.750,5.150L0,7.900Z"/><path d="M0,0H7.900L5.150,2.750L10,7.600L7.600,10L2.750,5.150L0,7.900Z" transform="translate(22,0) scale(-1,1)"/><path d="M0,0H7.900L5.150,2.750L10,7.600L7.600,10L2.750,5.150L0,7.900Z" transform="translate(0,22) scale(1,-1)"/><path d="M0,0H7.900L5.150,2.750L10,7.600L7.600,10L2.750,5.150L0,7.900Z" transform="translate(22,22) scale(-1,-1)"/></g></svg><div class="sub" style="left:98px;width:600px;top:127.8px">Average Userled Total Touchpoints 90D</div><svg class="abs" style="left:0;top:0" width="996" height="684" viewBox="2 2 996 684" font-family='"Liberation Sans", sans-serif' stroke="#000" stroke-width="0.3"><path d="M400.00,183.00A207,207 0 0 1 472.86,196.25L443.65,273.93A124,124 0 0 0 400.00,266.00Z" fill="#5094e6" stroke="#5094e6" stroke-width="0.6"/>
<path d="M472.86,196.25A207,207 0 0 1 605.49,365.05L523.10,375.05A124,124 0 0 0 443.65,273.93Z" fill="#86b7ed" stroke="#86b7ed" stroke-width="0.6"/>
<path d="M605.49,365.05A207,207 0 0 1 233.01,512.33L299.97,463.28A124,124 0 0 0 523.10,375.05Z" fill="#9357ea" stroke="#9357ea" stroke-width="0.6"/>
<path d="M233.01,512.33A207,207 0 0 1 194.65,416.11L276.99,405.64A124,124 0 0 0 299.97,463.28Z" fill="#bc9aef" stroke="#bc9aef" stroke-width="0.6"/>
<path d="M194.65,416.11A207,207 0 0 1 383.73,183.64L390.25,266.38A124,124 0 0 0 276.99,405.64Z" fill="#54a9a3" stroke="#54a9a3" stroke-width="0.6"/>
<path d="M383.73,183.64A207,207 0 0 1 400.00,183.00L400.00,266.00A124,124 0 0 0 390.25,266.38Z" fill="#76d1cc" stroke="#76d1cc" stroke-width="0.6"/>
<text x="429.6" y="234.2" font-size="22" text-anchor="middle" fill="#000">32</text>
<text x="530.1" y="294.8" font-size="22" text-anchor="middle" fill="#000">97</text>
<text x="460.9" y="550.9" font-size="22" text-anchor="middle" fill="#000">234</text>
<text x="246.3" y="458.3" font-size="22" text-anchor="middle" fill="#000">45</text>
<text x="271.6" y="292.6" font-size="22" text-anchor="middle" fill="#000">144</text>
<text x="400" y="406.2" font-size="42.5" text-anchor="middle" fill="#000">93.2</text></svg><div class="lgt" style="right:45px;top:102px">Account Name</div><div class="lgi" style="right:88px;top:151.6px">Codegen</div><div class="dot" style="left:927.6px;top:153.6px;background:#5094e6"></div><div class="lgi" style="right:88px;top:195.6px">Codelink</div><div class="dot" style="left:927.6px;top:197.6px;background:#86b7ed"></div><div class="lgi" style="right:88px;top:239.6px">Codewise</div><div class="dot" style="left:927.6px;top:241.6px;background:#9357ea"></div><div class="lgi" style="right:88px;top:283.6px">Datastack</div><div class="dot" style="left:927.6px;top:285.6px;background:#bc9aef"></div><div class="lgi" style="right:88px;top:327.6px">Other</div><div class="dot" style="left:927.6px;top:329.6px;background:#76d1cc"></div><div class="lgi" style="right:88px;top:371.6px">Userled Ltd</div><div class="dot" style="left:927.6px;top:373.6px;background:#54a9a3"></div><div class="lnk">View Report (Average Account Touchpoin…</div><div class="asof">As of 25 Jun 2025, 12:32</div></div><div class="card" style="left:-8px;top:892px;width:746px;height:512px"><div class="ttl"># website visits from target accounts</div><svg class="ic" style="left:642px;top:31px" width="24" height="24" viewBox="0 -1 24 24"><path d="M15.11,16.47A8.3,8.3 0 1 1 16.200,5.500" fill="none" stroke="#747474" stroke-width="2.800" stroke-linecap="round"/><path d="M18.750,-0.400V7.750H10.100" fill="none" stroke="#747474" stroke-width="2.300" stroke-linecap="butt" stroke-linejoin="miter"/><path d="M14.800,3.300L18.750,7.750H13Z" fill="#747474"/></svg><svg class="ic" style="left:689px;top:31px" width="22" height="22" viewBox="0 0 22 22"><g fill="#747474"><path id="ar" d="M0,0H7.900L5.150,2.750L10,7.600L7.600,10L2.750,5.150L0,7.900Z"/><path d="M0,0H7.900L5.150,2.750L10,7.600L7.600,10L2.750,5.150L0,7.900Z" transform="translate(22,0) scale(-1,1)"/><path d="M0,0H7.900L5.150,2.750L10,7.600L7.600,10L2.750,5.150L0,7.900Z" transform="translate(0,22) scale(1,-1)"/><path d="M0,0H7.900L5.150,2.750L10,7.600L7.600,10L2.750,5.150L0,7.900Z" transform="translate(22,22) scale(-1,-1)"/></g></svg><div class="big">755</div><div class="lnk">View Report (# website visits …</div><div class="asof">As of 25 Jun 2025, 12:32</div></div><div class="card" style="left:754px;top:892px;width:746px;height:512px"><div class="ttl"># engaged accounts</div><svg class="ic" style="left:642px;top:31px" width="24" height="24" viewBox="0 -1 24 24"><path d="M15.11,16.47A8.3,8.3 0 1 1 16.200,5.500" fill="none" stroke="#747474" stroke-width="2.800" stroke-linecap="round"/><path d="M18.750,-0.400V7.750H10.100" fill="none" stroke="#747474" stroke-width="2.300" stroke-linecap="butt" stroke-linejoin="miter"/><path d="M14.800,3.300L18.750,7.750H13Z" fill="#747474"/></svg><svg class="ic" style="left:689px;top:31px" width="22" height="22" viewBox="0 0 22 22"><g fill="#747474"><path id="ar" d="M0,0H7.900L5.150,2.750L10,7.600L7.600,10L2.750,5.150L0,7.900Z"/><path d="M0,0H7.900L5.150,2.750L10,7.600L7.600,10L2.750,5.150L0,7.900Z" transform="translate(22,0) scale(-1,1)"/><path d="M0,0H7.900L5.150,2.750L10,7.600L7.600,10L2.750,5.150L0,7.900Z" transform="translate(0,22) scale(1,-1)"/><path d="M0,0H7.900L5.150,2.750L10,7.600L7.600,10L2.750,5.150L0,7.900Z" transform="translate(22,22) scale(-1,-1)"/></g></svg><div class="big"><span class="one">1</span><span class="one">1</span>0</div><div class="lnk">View Report (# engaged acc…</div><div class="asof">As of 25 Jun 2025, 12:32</div></div><div class="card" style="left:1516px;top:892px;width:1508px;height:800px"><div class="ttl"># target account with open deals</div><svg class="ic" style="left:1404px;top:31px" width="24" height="24" viewBox="0 -1 24 24"><path d="M15.11,16.47A8.3,8.3 0 1 1 16.200,5.500" fill="none" stroke="#747474" stroke-width="2.800" stroke-linecap="round"/><path d="M18.750,-0.400V7.750H10.100" fill="none" stroke="#747474" stroke-width="2.300" stroke-linecap="butt" stroke-linejoin="miter"/><path d="M14.800,3.300L18.750,7.750H13Z" fill="#747474"/></svg><svg class="ic" style="left:1451px;top:31px" width="22" height="22" viewBox="0 0 22 22"><g fill="#747474"><path id="ar" d="M0,0H7.900L5.150,2.750L10,7.600L7.600,10L2.750,5.150L0,7.900Z"/><path d="M0,0H7.900L5.150,2.750L10,7.600L7.600,10L2.750,5.150L0,7.900Z" transform="translate(22,0) scale(-1,1)"/><path d="M0,0H7.900L5.150,2.750L10,7.600L7.600,10L2.750,5.150L0,7.900Z" transform="translate(0,22) scale(1,-1)"/><path d="M0,0H7.900L5.150,2.750L10,7.600L7.600,10L2.750,5.150L0,7.900Z" transform="translate(22,22) scale(-1,-1)"/></g></svg><div class="sub" style="left:308px;width:600px;top:125.9px">Sum of Amount (GBP): 2.2<span class="sc">M</span></div><svg class="abs" style="left:0;top:0" width="1504" height="796" viewBox="1518 894 1504 796" font-family='"Liberation Sans", sans-serif' stroke="#000" stroke-width="0.3"><path d="M1805.3,1072.3L2448.3,1072.3L2442.2,1104.9L1811.4,1104.9Z" fill="#5094e6" stroke="#5094e6" stroke-width="0.5"/><path d="M1811.4,1104.9L2442.2,1104.9L2410.7,1272.3L1842.9,1272.3Z" fill="#86b7ed" stroke="#86b7ed" stroke-width="0.5"/><path d="M1842.9,1272.3L2410.7,1272.3L2393.3,1364.6L1860.3,1364.6Z" fill="#9357ea" stroke="#9357ea" stroke-width="0.5"/><path d="M1860.3,1364.6L2393.3,1364.6L2356.6,1559.8L1897.0,1559.8Z" fill="#bc9aef" stroke="#bc9aef" stroke-width="0.5"/><path d="M1897.0,1559.8L2356.6,1559.8L2330.2,1700L1923.4,1700Z" fill="#54a9a3" stroke="#54a9a3" stroke-width="0.5"/><text x="2126.8" y="1094.2" font-size="20" text-anchor="middle" fill="#000">115<tspan font-size="14.6">K</tspan></text><text x="2126.8" y="1198.1" font-size="33" text-anchor="middle" fill="#000">542<tspan font-size="24.1">K</tspan></text><text x="2126.8" y="1324.0" font-size="20" text-anchor="middle" fill="#000">277<tspan font-size="14.6">K</tspan></text><text x="2126.8" y="1473.5" font-size="38" text-anchor="middle" fill="#000">525<tspan font-size="27.7">K</tspan></text></svg><div class="lgt" style="right:43.0px;top:102.2px">Stage</div><div class="lgi" style="right:86.7px;top:151.9px">Qualification</div><div class="sq" style="left:1438.0px;top:153.9px;background:#5094e6"></div><div class="lgi" style="right:86.7px;top:195.9px">Needs Analysis</div><div class="sq" style="left:1438.0px;top:197.9px;background:#86b7ed"></div><div class="lgi" style="right:86.7px;top:239.9px">Perception Analysis</div><div class="sq" style="left:1438.0px;top:241.9px;background:#9357ea"></div><div class="lgi" style="right:86.7px;top:283.9px">Negotiation/Review</div><div class="sq" style="left:1438.0px;top:285.9px;background:#bc9aef"></div><div class="lgi" style="right:86.7px;top:327.9px">Closed Won</div><div class="sq" style="left:1438.0px;top:329.9px;background:#54a9a3"></div><div class="lgi" style="right:86.7px;top:371.9px">Other</div><div class="sq" style="left:1438.0px;top:373.9px;background:#76d1cc"></div></div><div class="card" style="left:-8px;top:1420px;width:746px;height:400px"><div class="ttl">Average ACV from target accounts</div><svg class="ic" style="left:642px;top:31px" width="24" height="24" viewBox="0 -1 24 24"><path d="M15.11,16.47A8.3,8.3 0 1 1 16.200,5.500" fill="none" stroke="#747474" stroke-width="2.800" stroke-linecap="round"/><path d="M18.750,-0.400V7.750H10.100" fill="none" stroke="#747474" stroke-width="2.300" stroke-linecap="butt" stroke-linejoin="miter"/><path d="M14.800,3.300L18.750,7.750H13Z" fill="#747474"/></svg><svg class="ic" style="left:689px;top:31px" width="22" height="22" viewBox="0 0 22 22"><g fill="#747474"><path id="ar" d="M0,0H7.900L5.150,2.750L10,7.600L7.600,10L2.750,5.150L0,7.900Z"/><path d="M0,0H7.900L5.150,2.750L10,7.600L7.600,10L2.750,5.150L0,7.900Z" transform="translate(22,0) scale(-1,1)"/><path d="M0,0H7.900L5.150,2.750L10,7.600L7.600,10L2.750,5.150L0,7.900Z" transform="translate(0,22) scale(1,-1)"/><path d="M0,0H7.900L5.150,2.750L10,7.600L7.600,10L2.750,5.150L0,7.900Z" transform="translate(22,22) scale(-1,-1)"/></g></svg></div><div class="card" style="left:754px;top:1420px;width:746px;height:400px"><div class="ttl"># sales engaged accounts</div><svg class="ic" style="left:642px;top:31px" width="24" height="24" viewBox="0 -1 24 24"><path d="M15.11,16.47A8.3,8.3 0 1 1 16.200,5.500" fill="none" stroke="#747474" stroke-width="2.800" stroke-linecap="round"/><path d="M18.750,-0.400V7.750H10.100" fill="none" stroke="#747474" stroke-width="2.300" stroke-linecap="butt" stroke-linejoin="miter"/><path d="M14.800,3.300L18.750,7.750H13Z" fill="#747474"/></svg><svg class="ic" style="left:689px;top:31px" width="22" height="22" viewBox="0 0 22 22"><g fill="#747474"><path id="ar" d="M0,0H7.900L5.150,2.750L10,7.600L7.600,10L2.750,5.150L0,7.900Z"/><path d="M0,0H7.900L5.150,2.750L10,7.600L7.600,10L2.750,5.150L0,7.900Z" transform="translate(22,0) scale(-1,1)"/><path d="M0,0H7.900L5.150,2.750L10,7.600L7.600,10L2.750,5.150L0,7.900Z" transform="translate(0,22) scale(1,-1)"/><path d="M0,0H7.900L5.150,2.750L10,7.600L7.600,10L2.750,5.150L0,7.900Z" transform="translate(22,22) scale(-1,-1)"/></g></svg></div>
<div id="pill"></div>
<div id="tip"><span>Expand</span></div>
</body></html>
